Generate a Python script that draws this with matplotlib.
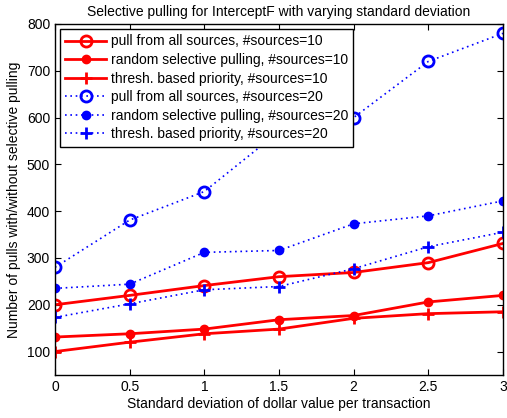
import matplotlib
matplotlib.use("Agg")
import matplotlib.pyplot as plt

plt.rcParams['font.family'] = ['Liberation Sans', 'DejaVu Sans']

x = [0, 0.5, 1, 1.5, 2, 2.5, 3]

# #sources=10
pull_all_10 = [200, 220, 241, 260, 269, 290, 331]
random_sel_10 = [131, 138, 148, 168, 177, 206, 220]
thresh_10 = [100, 120, 138, 148, 171, 181, 185]

# #sources=20
pull_all_20 = [280, 381, 442, 570, 600, 720, 780]
random_sel_20 = [235, 244, 312, 316, 373, 390, 422]
thresh_20 = [173, 202, 232, 239, 277, 324, 355]

labels = ['pull from all sources, #sources=10',
          'random selective pulling, #sources=10',
          'thresh. based priority, #sources=10',
          'pull from all sources, #sources=20',
          'random selective pulling, #sources=20',
          'thresh. based priority, #sources=20']

fig = plt.figure(figsize=(5.07, 4.18), dpi=100)
ax = fig.add_axes([0.1085, 0.103, 0.8835, 0.8396])

red = '#ff0000'
blue = '#0000ff'
dot = (0, (1, 2.2))
ax.plot(x, pull_all_10, '-', color=red, lw=2, marker='o', ms=8, mfc='none', mew=2, label=labels[0])
ax.plot(x, random_sel_10, '-', color=red, lw=2, marker='o', ms=6, mfc=red, mew=1, label=labels[1])
ax.plot(x, thresh_10, '-', color=red, lw=2, marker='+', ms=8, mew=2, label=labels[2])
ax.plot(x, pull_all_20, ls=dot, color=blue, lw=1.2, marker='o', ms=8, mfc='none', mew=2, label=labels[3])
ax.plot(x, random_sel_20, ls=dot, color=blue, lw=1.2, marker='o', ms=6, mfc=blue, mew=1, label=labels[4])
ax.plot(x, thresh_20, ls=dot, color=blue, lw=1.2, marker='+', ms=8, mew=2, label=labels[5])

ax.set_xlim(0, 3)
ax.set_ylim(50, 800)
ax.set_xticks(x)
ax.set_xticklabels(['0', '0.5', '1', '1.5', '2', '2.5', '3'])
ax.set_yticks([100, 200, 300, 400, 500, 600, 700, 800])
ax.tick_params(direction='in', top=True, right=True, labelsize=10, length=4)
for s in ax.spines.values():
    s.set_linewidth(1)

ax.set_xlabel('Standard deviation of dollar value per transaction', fontsize=10, labelpad=2)
ax.set_ylabel('Number of pulls with/without selective pulling', fontsize=10, labelpad=4)
ax.set_title('Selective pulling for InterceptF with varying standard deviation', fontsize=10, pad=6)

leg = ax.legend(loc='upper left', fontsize=10, fancybox=False, framealpha=1,
                edgecolor='black', borderaxespad=0.35, handlelength=2.9,
                labelspacing=0.33, borderpad=0.4, handletextpad=0.35)
leg.get_frame().set_linewidth(1)

fig.savefig('out.png', dpi=100)
